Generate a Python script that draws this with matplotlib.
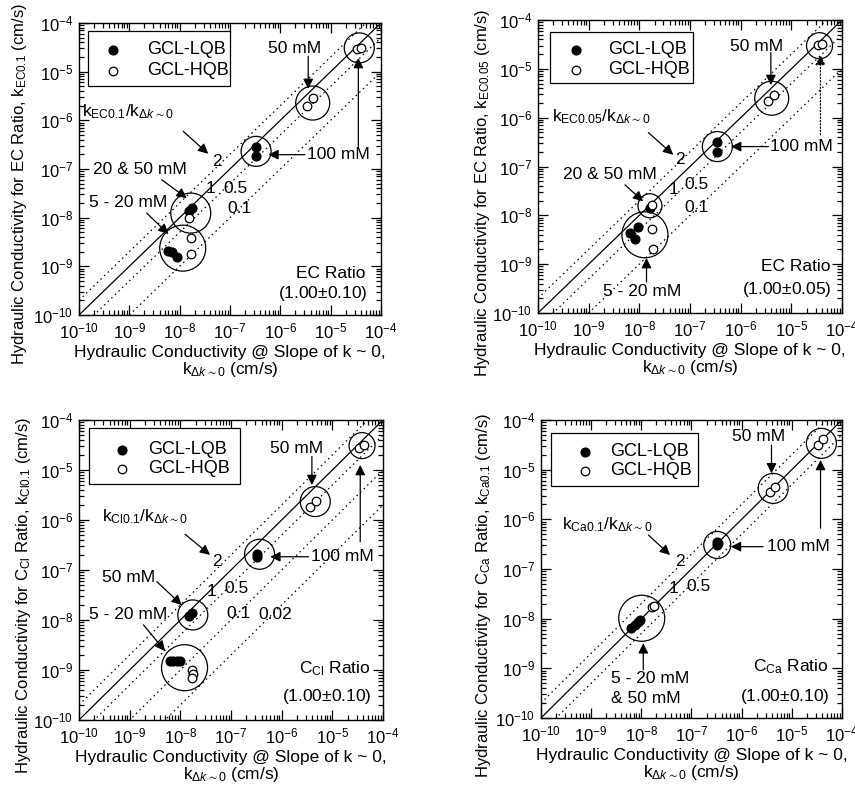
import matplotlib
matplotlib.use("Agg")
import matplotlib.pyplot as plt
from matplotlib.patches import Rectangle
from matplotlib.ticker import LogLocator, LogFormatterSciNotation, NullFormatter
import numpy as np

plt.rcParams['font.family'] = ['Liberation Sans', 'DejaVu Sans']
plt.rcParams['mathtext.fontset'] = 'custom'
plt.rcParams['mathtext.rm'] = 'Liberation Sans'
plt.rcParams['mathtext.it'] = 'Liberation Sans:italic'
plt.rcParams['mathtext.bf'] = 'Liberation Sans:bold'
plt.rcParams['mathtext.sf'] = 'Liberation Sans'
plt.rcParams['mathtext.fallback'] = 'stixsans'
plt.rcParams['axes.unicode_minus'] = False

# ---------------- data: k at slope ~ 0 (x) vs k at termination criterion (y), cm/s
# EC ratio 1.00 +/- 0.10
ec10_lqb_x = [6.0e-9, 7.1e-9, 8.7e-9, 1.53e-8, 1.78e-8, 3.3e-7, 3.3e-7]
ec10_lqb_y = [2.1e-9, 1.94e-9, 1.58e-9, 1.4e-8, 1.58e-8, 2.8e-7, 1.86e-7]
ec10_hqb_x = [1.66e-8, 1.66e-8, 1.5e-8, 3.44e-6, 4.53e-6, 3.29e-5, 4.0e-5]
ec10_hqb_y = [3.8e-9, 1.8e-9, 9.8e-9, 1.94e-6, 2.87e-6, 2.88e-5, 3.02e-5]

# EC ratio 1.00 +/- 0.05
ec05_lqb_x = [6.7e-9, 8.4e-9, 9.5e-9, 1.61e-8, 3.47e-7, 3.47e-7]
ec05_lqb_y = [4.3e-9, 3.26e-9, 5.65e-9, 1.4e-8, 3.24e-7, 2.02e-7]
ec05_hqb_x = [1.79e-8, 1.85e-8, 1.79e-8, 3.53e-6, 4.65e-6, 3.29e-5, 4.0e-5]
ec05_hqb_y = [5.2e-9, 2.04e-9, 1.64e-8, 2.23e-6, 2.92e-6, 3.07e-5, 3.2e-5]

# C_Cl ratio 1.00 +/- 0.10
cl_lqb_x = [6.3e-9, 7.3e-9, 8.5e-9, 9.9e-9, 1.45e-8, 1.7e-8, 3.24e-7, 3.3e-7]
cl_lqb_y = [1.5e-9, 1.5e-9, 1.5e-9, 1.52e-9, 1.2e-8, 1.4e-8, 2.06e-7, 1.85e-7]
cl_hqb_x = [1.69e-8, 1.75e-8, 1.72e-8, 3.67e-6, 4.83e-6, 3.3e-5, 4.16e-5]
cl_hqb_y = [1.0e-9, 8.2e-10, 6.8e-10, 1.85e-6, 2.4e-6, 2.71e-5, 3.16e-5]

# C_Ca ratio 1.00 +/- 0.10
ca_lqb_x = [6.3e-9, 7.5e-9, 8.5e-9, 9.4e-9, 3.27e-7, 3.27e-7, 3.35e-7]
ca_lqb_y = [6.6e-9, 7.6e-9, 8.5e-9, 9.2e-9, 3.05e-7, 3.57e-7, 3.3e-7]
ca_hqb_x = [1.65e-8, 1.78e-8, 3.65e-6, 4.6e-6, 3.34e-5, 4.2e-5]
ca_hqb_y = [1.72e-8, 1.8e-8, 3.61e-6, 4.55e-6, 3.13e-5, 4.07e-5]

# ratio lines k_crit / k_slope
ratios_ec = [2, 1, 0.5, 0.1]
ratios_cl = [2, 1, 0.5, 0.1, 0.02]
ratios_ca = [2, 1, 0.5]

# grouping circles: centre x, centre y, radius (px)
ec10_grp_x = [3.7e-5, 4.4e-6, 3.3e-7, 1.66e-8, 1.15e-8]
ec10_grp_y = [3.07e-5, 2.26e-6, 2.3e-7, 1.24e-8, 2.36e-9]
ec10_grp_r = [15, 17, 15, 20, 23]
ec05_grp_x = [3.6e-5, 4.1e-6, 3.47e-7, 1.62e-8, 1.29e-8]
ec05_grp_y = [2.98e-5, 2.5e-6, 2.56e-7, 1.57e-8, 4.0e-9]
ec05_grp_r = [13, 17, 15, 12, 23]
cl_grp_x = [3.85e-5, 4.6e-6, 3.66e-7, 1.76e-8, 1.21e-8]
cl_grp_y = [3.07e-5, 2.33e-6, 2.06e-7, 1.26e-8, 1.11e-9]
cl_grp_r = [13, 15, 15, 15, 23]
ca_grp_x = [3.9e-5, 4.26e-6, 3.27e-7, 1.02e-8]
ca_grp_y = [3.39e-5, 4.2e-6, 3.05e-7, 1.02e-8]
ca_grp_r = [15, 15, 13.5, 23]

decades = [1e-10, 1e-9, 1e-8, 1e-7, 1e-6, 1e-5, 1e-4]
series_names = ['GCL-LQB', 'GCL-HQB']

XLABEL = ("Hydraulic Conductivity @ Slope of k ~ 0,\n"
          r"k$_{\Delta k\sim0}$ (cm/s)")

panels = [
    dict(rect=[0.0924, 0.6018, 0.3532, 0.3692],
         lqb=(ec10_lqb_x, ec10_lqb_y), hqb=(ec10_hqb_x, ec10_hqb_y),
         grp=(ec10_grp_x, ec10_grp_y, ec10_grp_r), ratios=ratios_ec,
         ylabel=r"Hydraulic Conductivity for EC Ratio, k$_{\mathrm{EC0.1}}$ (cm/s)",
         ylab_pos=(-0.165, 0.45),
         ratio_txt=r"k$_{\mathrm{EC0.1}}$/k$_{\Delta k\sim0}$",
         ratio_pos=(0.163, 0.697), ratio_arrow=((0.345, 0.629), (0.428, 0.552)),
         line_lbl=[("2", 0.456, 0.526), ("1", 0.436, 0.434), ("0.5", 0.517, 0.434),
                   ("0.1", 0.533, 0.366)],
         notes=[("50 mM", (0.715, 0.914), 'center', [((0.759, 0.886), (0.759, 0.774), '-')]),
                ("100 mM", (0.859, 0.549), 'center', [((0.748, 0.549), (0.627, 0.549), '-'),
                                                      ((0.925, 0.577), (0.925, 0.88), '-')]),
                ("20 & 50 mM", (0.202, 0.497), 'center', [((0.274, 0.463), (0.357, 0.40), '-')]),
                ("5 - 20 mM", (0.163, 0.385), 'center', [((0.224, 0.349), (0.296, 0.277), '-')])],
         crit=("EC Ratio", "(1.00$\\pm$0.10)"), crit_pos=(0.95, 0.141, 0.074),
         leg_box=(0.029, 0.785, 0.500, 0.971), leg_mx=0.114, leg_tx=0.224,
         leg_rows=(0.909, 0.837)),
    dict(rect=[0.6292, 0.6043, 0.3556, 0.3704],
         lqb=(ec05_lqb_x, ec05_lqb_y), hqb=(ec05_hqb_x, ec05_hqb_y),
         grp=(ec05_grp_x, ec05_grp_y, ec05_grp_r), ratios=ratios_ec,
         ylabel=r"Hydraulic Conductivity for EC Ratio, k$_{\mathrm{EC0.05}}$ (cm/s)",
         ylab_pos=(-0.151, 0.41),
         ratio_txt=r"k$_{\mathrm{EC0.05}}$/k$_{\Delta k\sim0}$",
         ratio_pos=(0.209, 0.67), ratio_arrow=((0.363, 0.616), (0.445, 0.54)),
         line_lbl=[("2", 0.467, 0.523), ("1", 0.445, 0.42), ("0.5", 0.522, 0.44),
                   ("0.1", 0.522, 0.361)],
         notes=[("50 mM", (0.72, 0.91), 'center', [((0.766, 0.889), (0.766, 0.778), '-')]),
                ("100 mM", (0.868, 0.568), 'center', [((0.758, 0.568), (0.635, 0.568), '-'),
                                                      ((0.929, 0.608), (0.929, 0.881), ':')]),
                ("20 & 50 mM", (0.236, 0.472), 'center', [((0.286, 0.4375), (0.346, 0.381), '-')]),
                ("5 - 20 mM", (0.341, 0.074), 'center', [((0.357, 0.106), (0.357, 0.1875), '-')])],
         crit=("EC Ratio", "(1.00$\\pm$0.05)"), crit_pos=(0.962, 0.159, 0.08),
         leg_box=(0.038, 0.784, 0.511, 0.960), leg_mx=0.126, leg_tx=0.231,
         leg_rows=(0.898, 0.830)),
    dict(rect=[0.0924, 0.0898, 0.3556, 0.3793],
         lqb=(cl_lqb_x, cl_lqb_y), hqb=(cl_hqb_x, cl_hqb_y),
         grp=(cl_grp_x, cl_grp_y, cl_grp_r), ratios=ratios_cl,
         ylabel=r"Hydraulic Conductivity for C$_{\mathrm{Cl}}$ Ratio, k$_{\mathrm{Cl0.1}}$ (cm/s)",
         ylab_pos=(-0.151, 0.415),
         ratio_txt=r"k$_{\mathrm{Cl0.1}}$/k$_{\Delta k\sim0}$",
         ratio_pos=(0.217, 0.678), ratio_arrow=((0.349, 0.619), (0.431, 0.55)),
         line_lbl=[("2", 0.453, 0.528), ("1", 0.437, 0.428), ("0.5", 0.519, 0.439),
                   ("0.1", 0.525, 0.356), ("0.02", 0.645, 0.35)],
         notes=[("50 mM", (0.717, 0.906), 'center', [((0.766, 0.878), (0.766, 0.783), '-')]),
                ("100 mM", (0.865, 0.544), 'center', [((0.755, 0.544), (0.629, 0.544), '-'),
                                                      ((0.925, 0.594), (0.925, 0.85), '-')]),
                ("50 mM", (0.162, 0.474), 'center', [((0.256, 0.461), (0.338, 0.383), '-')]),
                ("5 - 20 mM", (0.162, 0.35), 'center', [((0.212, 0.317), (0.283, 0.23), '-')])],
         crit=(r"C$_{\mathrm{Cl}}$ Ratio", "(1.00$\\pm$0.10)"), crit_pos=(0.958, 0.172, 0.078),
         leg_box=(0.034, 0.786, 0.530, 0.972), leg_mx=0.140, leg_tx=0.228,
         leg_rows=(0.900, 0.837)),
    dict(rect=[0.6327, 0.0923, 0.352, 0.3767],
         lqb=(ca_lqb_x, ca_lqb_y), hqb=(ca_hqb_x, ca_hqb_y),
         grp=(ca_grp_x, ca_grp_y, ca_grp_r), ratios=ratios_ca,
         ylabel=r"Hydraulic Conductivity for C$_{\mathrm{Ca}}$ Ratio, k$_{\mathrm{Ca0.1}}$ (cm/s)",
         ylab_pos=(-0.159, 0.41),
         ratio_txt=r"k$_{\mathrm{Ca0.1}}$/k$_{\Delta k\sim0}$",
         ratio_pos=(0.219, 0.648), ratio_arrow=((0.357, 0.614), (0.429, 0.547)),
         line_lbl=[("2", 0.462, 0.525), ("1", 0.44, 0.436), ("0.5", 0.523, 0.441)],
         notes=[("50 mM", (0.722, 0.944), 'center', [((0.766, 0.916), (0.766, 0.821), '-')]),
                ("100 mM", (0.854, 0.575), 'center', [((0.738, 0.575), (0.631, 0.575), '-'),
                                                      ((0.929, 0.637), (0.929, 0.866), '-')]),
                ("5 - 20 mM", (0.232, 0.134), 'left', [((0.34, 0.162), (0.34, 0.251), '-')]),
                ("& 50 mM", (0.232, 0.067), 'left', [])],
         crit=(r"C$_{\mathrm{Ca}}$ Ratio", "(1.00$\\pm$0.10)"), crit_pos=(0.954, 0.173, 0.073),
         leg_box=(0.034, 0.780, 0.523, 0.955), leg_mx=0.145, leg_tx=0.230,
         leg_rows=(0.894, 0.829)),
]

FS = 12.5
TICK_FS = 12
fig = plt.figure(figsize=(8.55, 7.91), dpi=100)
xline = np.logspace(-10, -4, 200)
arrow_kw = dict(arrowstyle='-|>', color='k', lw=0.9, mutation_scale=15,
                shrinkA=0, shrinkB=0)
lqb_style = dict(s=42, c='k', edgecolors='k', linewidths=0.8)
hqb_style = dict(s=38, facecolors='white', edgecolors='k', linewidths=0.9)

for p in panels:
    ax = fig.add_axes(p['rect'])
    ax.set_xscale('log')
    ax.set_yscale('log')
    ax.set_xlim(1e-10, 1e-4)
    ax.set_ylim(1e-10, 1e-4)
    for axis in (ax.xaxis, ax.yaxis):
        axis.set_major_locator(LogLocator(base=10, numticks=20))
        axis.set_major_formatter(LogFormatterSciNotation())
        axis.set_minor_locator(LogLocator(base=10, subs=np.arange(2, 10), numticks=20))
        axis.set_minor_formatter(NullFormatter())
    ax.set_xticks(decades)
    ax.set_yticks(decades)

    for r in p['ratios']:
        ax.plot(xline, r * xline, color='k', lw=0.9,
                ls='-' if r == 1 else (0, (1.2, 2.8)), zorder=1)

    gx, gy, gr = p['grp']
    ax.scatter(gx, gy, s=[(2 * r * 0.72) ** 2 for r in gr], facecolors='none',
               edgecolors='k', linewidths=0.9, zorder=2)

    ax.scatter(*p['lqb'], zorder=3, **lqb_style)
    ax.scatter(*p['hqb'], zorder=3, **hqb_style)

    # legend box
    x0, y0, x1, y1 = p['leg_box']
    ax.add_patch(Rectangle((x0, y0), x1 - x0, y1 - y0, transform=ax.transAxes,
                           facecolor='white', edgecolor='k', lw=0.9, zorder=4))
    for name, row, style in zip(series_names, p['leg_rows'], (lqb_style, hqb_style)):
        ax.scatter([p['leg_mx']], [row], transform=ax.transAxes, zorder=5,
                   clip_on=False, **style)
        ax.text(p['leg_tx'], row, name, transform=ax.transAxes, ha='left',
                va='center', fontsize=13, zorder=5)

    ax.tick_params(which='both', direction='in', top=True, right=True,
                   labelsize=TICK_FS, width=0.9)
    ax.tick_params(which='major', length=7)
    ax.tick_params(which='minor', length=3.5)
    ax.tick_params(axis='x', pad=5)
    ax.tick_params(axis='y', pad=4)
    for s in ax.spines.values():
        s.set_linewidth(1.0)

    ax.set_xlabel(XLABEL, fontsize=FS, labelpad=2, linespacing=1.05)
    ax.set_ylabel(p['ylabel'], fontsize=12)
    ax.yaxis.set_label_coords(*p['ylab_pos'])

    ax.text(*p['ratio_pos'], p['ratio_txt'], transform=ax.transAxes,
            ha='center', va='center', fontsize=FS)
    (ax0, ay0), (ax1, ay1) = p['ratio_arrow']
    ax.annotate('', xy=(ax1, ay1), xytext=(ax0, ay0), xycoords='axes fraction',
                arrowprops=arrow_kw)
    for t, tx, ty in p['line_lbl']:
        ax.text(tx, ty, t, transform=ax.transAxes, ha='center', va='center',
                fontsize=FS)

    for txt, (tx, ty), ha, arrows in p['notes']:
        ax.text(tx, ty, txt, transform=ax.transAxes, ha=ha, va='center',
                fontsize=FS)
        for (xa, ya), (xb, yb), ls in arrows:
            ax.annotate('', xy=(xb, yb), xytext=(xa, ya), xycoords='axes fraction',
                        arrowprops=dict(arrow_kw, ls=ls))

    cx, cy1, cy2 = p['crit_pos']
    ax.text(cx, cy1, p['crit'][0], transform=ax.transAxes, ha='right',
            va='center', fontsize=FS)
    ax.text(cx + 0.005, cy2, p['crit'][1], transform=ax.transAxes, ha='right',
            va='center', fontsize=FS)

fig.savefig('out.png', dpi=100)
